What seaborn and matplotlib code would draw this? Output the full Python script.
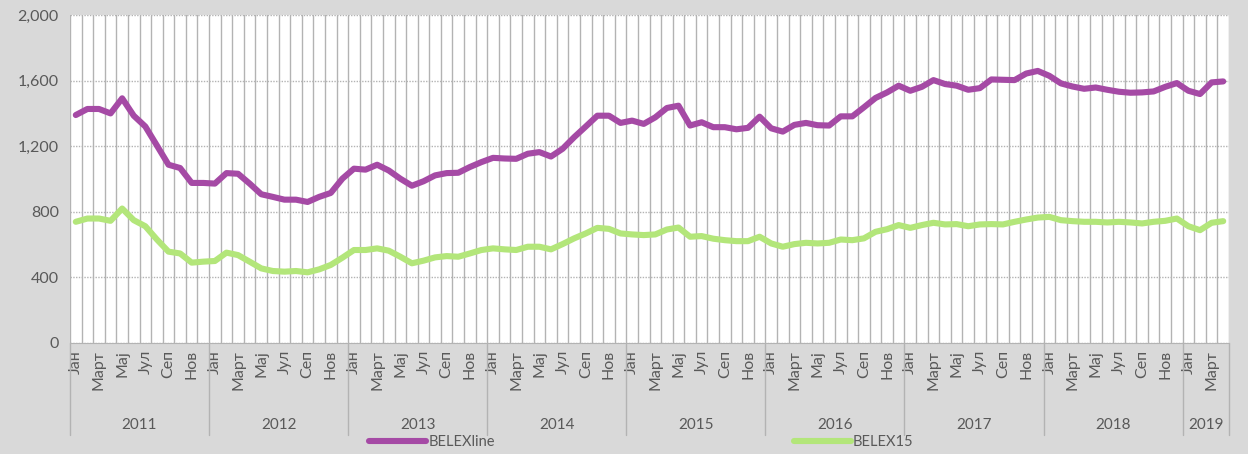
import numpy as np
import pandas as pd
import matplotlib
matplotlib.use("Agg")
import matplotlib.pyplot as plt
import matplotlib.transforms as mtransforms
from matplotlib.ticker import FuncFormatter
import seaborn as sns

# month names, years and index values (Jan 2011 - Apr 2019)
months = ['Јан', 'Феб', 'Март', 'Апр', 'Мај', 'Јун', 'Јул', 'Авг', 'Сеп', 'Окт', 'Нов', 'Дец']
years = ['2011', '2012', '2013', '2014', '2015', '2016', '2017', '2018', '2019']
months_per_year = [12, 12, 12, 12, 12, 12, 12, 12, 4]

belexline = [1390, 1427, 1427, 1400, 1492, 1386, 1320, 1204, 1087, 1067, 976, 976,
             972, 1036, 1032, 972, 907, 891, 874, 874, 860, 891, 915, 1002,
             1063, 1057, 1087, 1052, 1002, 959, 986, 1022, 1036, 1038, 1073, 1103,
             1129, 1125, 1123, 1154, 1164, 1137, 1184, 1255, 1320, 1386, 1386, 1342,
             1356, 1336, 1376, 1433, 1447, 1326, 1346, 1316, 1316, 1303, 1312, 1380,
             1309, 1289, 1330, 1342, 1328, 1326, 1382, 1382, 1437, 1494, 1528, 1569,
             1538, 1562, 1603, 1579, 1569, 1544, 1554, 1607, 1605, 1603, 1643, 1659,
             1629, 1583, 1564, 1550, 1558, 1544, 1532, 1526, 1528, 1534, 1562, 1585,
             1538, 1518, 1589, 1595]

belex15 = [739, 759, 759, 745, 820, 749, 712, 631, 557, 546, 490, 496,
           500, 551, 536, 496, 455, 439, 435, 439, 431, 449, 476, 520,
           567, 567, 577, 563, 526, 486, 502, 522, 530, 526, 546, 567,
           577, 571, 567, 587, 587, 571, 603, 638, 668, 702, 696, 668,
           662, 658, 662, 692, 704, 648, 652, 636, 627, 621, 621, 648,
           607, 587, 603, 611, 607, 611, 631, 627, 638, 678, 694, 719,
           702, 719, 733, 723, 725, 712, 723, 725, 723, 739, 753, 765,
           769, 749, 743, 739, 739, 735, 739, 735, 729, 739, 745, 759,
           712, 688, 733, 743]

n = len(belexline)
df = pd.DataFrame({
    'idx': list(range(n)) * 2,
    'value': belexline + belex15,
    'series': ['BELEXline'] * n + ['BELEX15'] * n,
})

bg = '#d9d9d9'
grid_c = '#b3b3b3'
text_c = '#595959'
palette = {'BELEXline': '#a54aa5', 'BELEX15': '#b3e67a'}

sns.set_style('white')
plt.rcParams['font.family'] = ['Lato', 'Open Sans', 'DejaVu Sans']

fig = plt.figure(figsize=(12.48, 4.54), dpi=100, facecolor=bg)
ax = fig.add_axes([70 / 1248, 1 - 343 / 454, (1229 - 70) / 1248, (343 - 15) / 454])
ax.set_facecolor('white')

sns.lineplot(data=df, x='idx', y='value', hue='series', palette=palette,
             linewidth=4.4, ax=ax, legend=True, solid_capstyle='round')

ax.set_xlim(-0.5, n - 0.5)
ax.set_ylim(0, 2000)
ax.set_yticks(np.arange(0, 2001, 400))
ax.yaxis.set_major_formatter(FuncFormatter(lambda v, p: f'{int(v):,}'))

# vertical month gridlines
ax.set_xticks(np.arange(-0.5, n, 1), minor=True)
ax.grid(True, axis='x', which='minor', color=grid_c, linewidth=1, linestyle='-')
ax.grid(True, axis='y', which='major', color=grid_c, linewidth=1, linestyle=(0, (1, 1)))
ax.grid(False, axis='x', which='major')
ax.set_axisbelow(True)

# month labels every other month
month_pos, month_lab = [], []
k = 0
for y, cnt in zip(years, months_per_year):
    for m in range(cnt):
        if m % 2 == 0:
            month_pos.append(k)
            month_lab.append(months[m])
        k += 1
ax.set_xticks(month_pos)
ax.set_xticklabels(month_lab, rotation=90, fontsize=11.5, color=text_c)
ax.tick_params(axis='x', which='both', length=0, pad=5)
ax.tick_params(axis='y', length=0, labelsize=11.5, labelcolor=text_c, pad=8)

for s in ['top', 'right', 'left']:
    ax.spines[s].set_visible(False)
ax.spines['bottom'].set_color(grid_c)

ax.set_xlabel('')
ax.set_ylabel('')

# year groups below the axis
trans = mtransforms.blended_transform_factory(ax.transData, ax.transAxes)
start = 0
edges = [-0.5]
for y, cnt in zip(years, months_per_year):
    ax.text(start + cnt / 2 - 0.5, -0.25, y, transform=trans, ha='center', va='center',
            fontsize=11, color=text_c)
    start += cnt
    edges.append(start - 0.5)
for e in edges:
    ax.plot([e, e], [0, -0.28], transform=trans, color=grid_c, linewidth=1, clip_on=False)

# legend
handles, labels = ax.get_legend_handles_labels()
ax.legend_.remove()
fig.legend(handles, labels, loc='lower center', bbox_to_anchor=(0.514, -0.018), ncol=2,
           frameon=False, fontsize=10.5, handlelength=3.9, handletextpad=0.15,
           columnspacing=20.5, labelcolor=text_c)

fig.savefig('out.png', dpi=100, facecolor=bg)
